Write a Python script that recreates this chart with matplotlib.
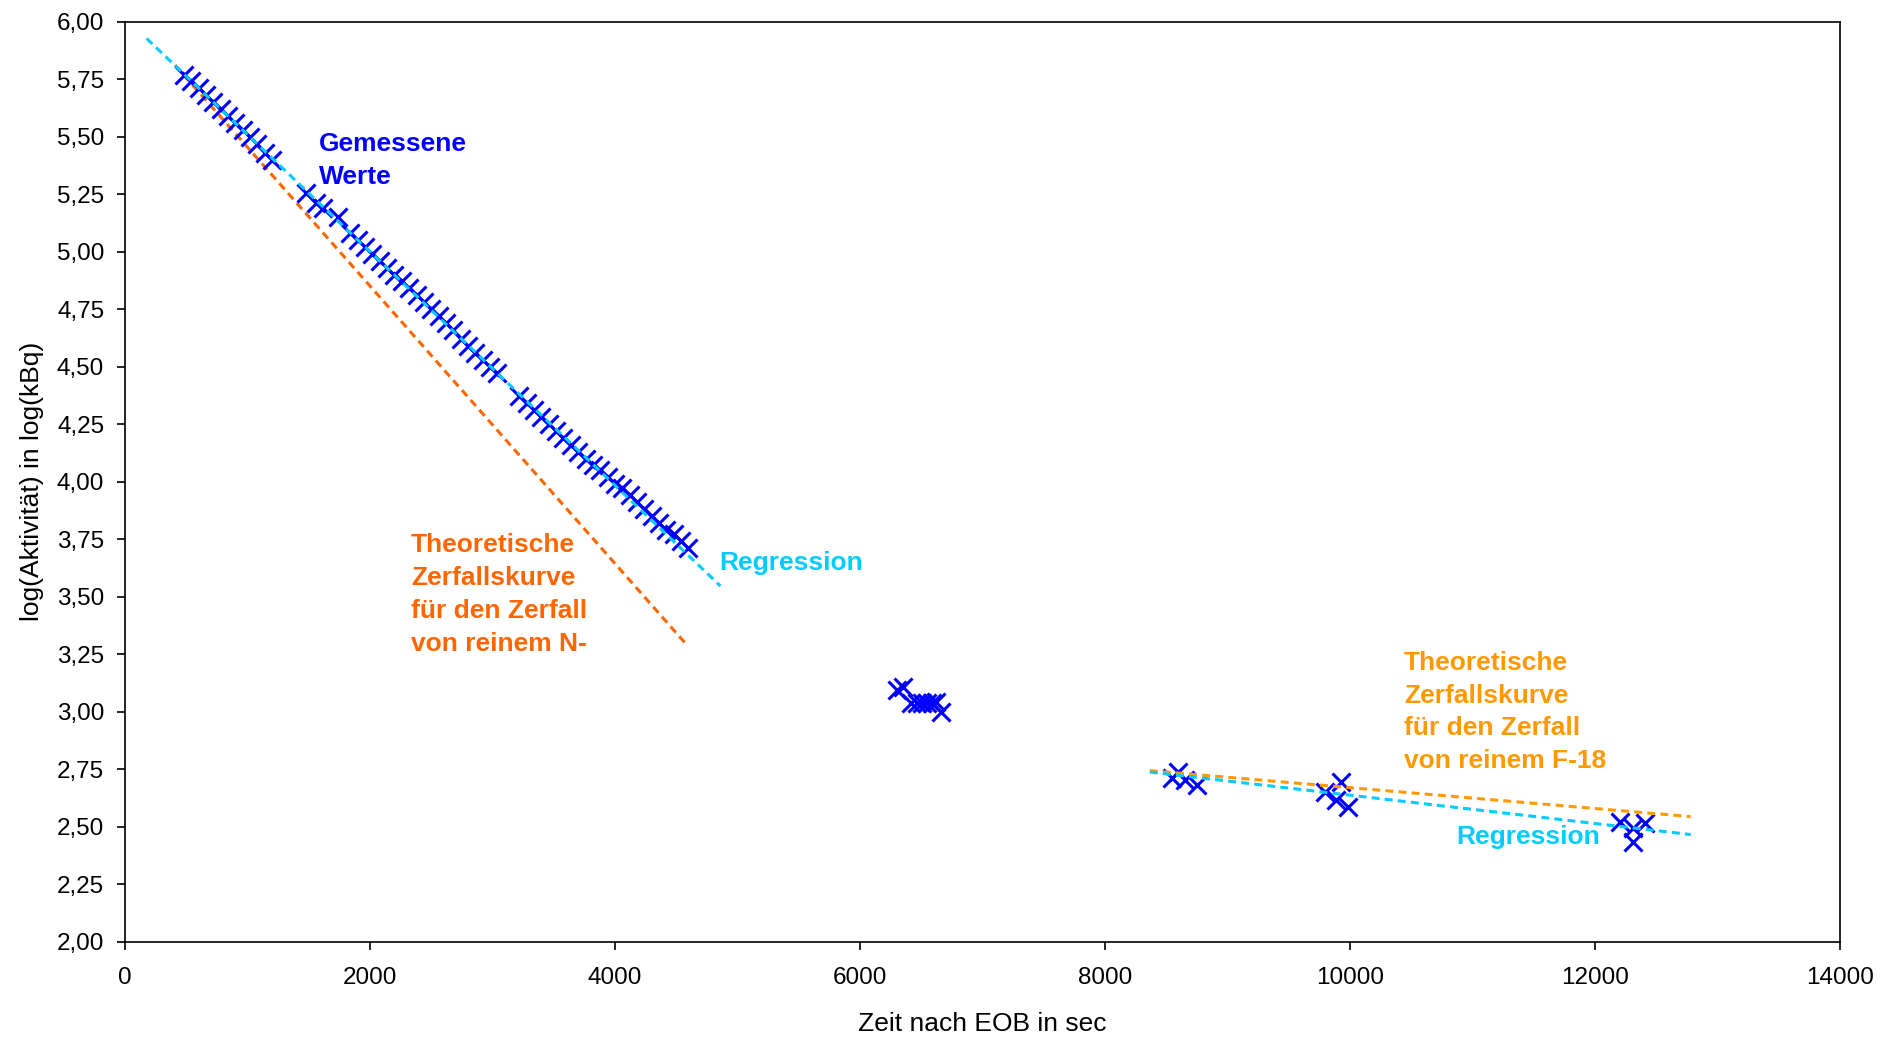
import matplotlib
matplotlib.use("Agg")
import matplotlib.pyplot as plt
from matplotlib.ticker import FuncFormatter, MultipleLocator

plt.rcParams['font.family'] = ['Liberation Sans', 'DejaVu Sans']

# ---- measured values (time after EOB in s, log10 activity in log(kBq)) ----
meas_t = [480, 540, 600, 660, 720, 780, 840, 900, 960, 1020, 1080, 1140, 1200,
          1480, 1560, 1620, 1740,
          1840, 1900, 1960, 2020, 2080, 2140, 2200, 2260, 2320, 2380, 2440,
          2500, 2560, 2620, 2680, 2740, 2800, 2860, 2920, 2980, 3040,
          3220, 3280, 3340, 3400, 3460, 3520, 3580, 3640, 3700, 3760, 3820,
          3880, 3940, 4000, 4060, 4120, 4180, 4240, 4300, 4360, 4420, 4480,
          4540, 4600,
          6300, 6350, 6420, 6465, 6505, 6545, 6585, 6625, 6665,
          8545, 8600, 8655, 8750,
          9795, 9930, 9890, 9985,
          12205, 12310, 12410, 12312]
meas_y = [5.77, 5.74, 5.71, 5.68, 5.65, 5.62, 5.59, 5.56, 5.53, 5.50, 5.47, 5.43, 5.40,
          5.255, 5.21, 5.19, 5.15,
          5.08, 5.05, 5.02, 4.99, 4.96, 4.93, 4.90, 4.87, 4.84, 4.81, 4.78,
          4.75, 4.72, 4.69, 4.66, 4.62, 4.59, 4.56, 4.53, 4.50, 4.47,
          4.37, 4.34, 4.31, 4.28, 4.25, 4.22, 4.19, 4.16, 4.13, 4.10, 4.07,
          4.05, 4.02, 3.99, 3.97, 3.94, 3.91, 3.88, 3.85, 3.82, 3.79, 3.77,
          3.74, 3.71,
          3.094, 3.105, 3.037, 3.037, 3.037, 3.037, 3.037, 3.04, 2.999,
          2.71, 2.738, 2.702, 2.681,
          2.651, 2.695, 2.615, 2.586,
          2.521, 2.492, 2.514, 2.434]

# regression for N-13 part
reg1_t = [176, 4861]
reg1_y = [5.927, 3.546]
# theoretical decay of pure N-13
theo_n_t = [408, 4588]
theo_n_y = [5.811, 3.289]
# theoretical decay of pure F-18
theo_f_t = [8367, 12784]
theo_f_y = [2.743, 2.543]
# regression for F-18 part
reg2_t = [8367, 12784]
reg2_y = [2.737, 2.465]

x_ticks = [0, 2000, 4000, 6000, 8000, 10000, 12000, 14000]

BLUE = '#0000FF'
CYAN = '#00CCFF'
ORANGE_N = '#FF6600'
ORANGE_F = '#FF9900'

fig = plt.figure(figsize=(18.83, 10.40), dpi=100)
ax = fig.add_axes([0.0664, 0.0947, 0.9106, 0.8845])

ax.plot(meas_t, meas_y, linestyle='none', marker='x', color=BLUE,
        markersize=13, markeredgewidth=2.2, zorder=3)

dash = (2.6, 1.7)
lw = 2.2
ax.plot(reg1_t, reg1_y, color=CYAN, lw=lw, dashes=dash, zorder=4)
ax.plot(theo_n_t, theo_n_y, color=ORANGE_N, lw=lw, dashes=dash, zorder=2)
ax.plot(theo_f_t, theo_f_y, color=ORANGE_F, lw=lw, dashes=dash, zorder=4)
ax.plot(reg2_t, reg2_y, color=CYAN, lw=lw, dashes=dash, zorder=4)

ax.set_xlim(0, 14000)
ax.set_ylim(2.0, 6.0)
ax.set_xticks(x_ticks)
ax.yaxis.set_major_locator(MultipleLocator(0.25))
ax.yaxis.set_major_formatter(FuncFormatter(lambda v, p: f"{v:.2f}".replace('.', ',')))
ax.xaxis.set_major_formatter(FuncFormatter(lambda v, p: f"{int(v)}"))
ax.tick_params(axis='both', direction='out', length=6, width=1.2, labelsize=17.5)
ax.tick_params(axis='x', pad=12)
ax.tick_params(axis='y', pad=9)
for s in ax.spines.values():
    s.set_linewidth(1.2)
    s.set_color('black')

ax.set_xlabel('Zeit nach EOB in sec', fontsize=19, labelpad=17)
ax.set_ylabel('log(Aktivität) in log(kBq)', fontsize=19, labelpad=9)

fs = 19
ls = 1.47
ax.text(1584, 5.52, 'Gemessene\nWerte', color=BLUE, fontsize=fs, fontweight='bold',
        ha='left', va='top', linespacing=ls)
ax.text(2335, 3.775, 'Theoretische\nZerfallskurve\nfür den Zerfall\nvon reinem N-',
        color=ORANGE_N, fontsize=fs, fontweight='bold', ha='left', va='top', linespacing=ls)
ax.text(4849, 3.645, 'Regression', color=CYAN, fontsize=fs, fontweight='bold',
        ha='left', va='center')
ax.text(10441, 3.265, 'Theoretische\nZerfallskurve\nfür den Zerfall\nvon reinem F-18',
        color=ORANGE_F, fontsize=fs, fontweight='bold', ha='left', va='top', linespacing=ls)
ax.text(10873, 2.455, 'Regression', color=CYAN, fontsize=fs, fontweight='bold',
        ha='left', va='center')

fig.savefig('out.png', dpi=100)
